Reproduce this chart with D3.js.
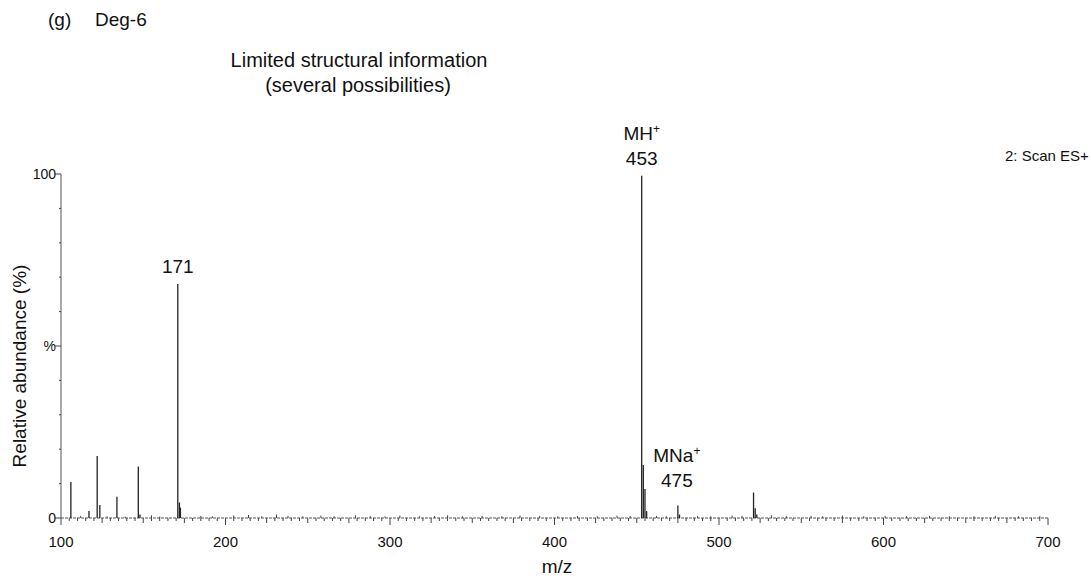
<html lang="en">
  <head>
    <meta charset="UTF-8" />
    <title>Deg-6 mass spectrum</title>
    <script src="https://d3js.org/d3.v7.min.js"></script>
  </head>
  <style>
    body {
      margin: 0;
      background: #fff;
    }
    text {
      font-family: "Liberation Sans", Arial, sans-serif;
      fill: #111;
    }
  </style>
  <body>
    <svg id="chart" width="1091" height="576"></svg>
    <script>
      // peaks (m/z, relative abundance %)
      var peakMz = [106, 117, 122, 123.6, 134, 147, 148, 171, 172, 172.6,
        453, 454, 455, 456, 475, 476, 521, 522, 523];
      var peakAbund = [10.5, 2, 18, 3.8, 6.2, 15, 1, 68, 4.5, 3,
        99.5, 15.4, 8.4, 2, 3.6, 1, 7.4, 2.8, 1];

      // small baseline noise
      var noiseMz = [112, 128, 139, 155, 160, 185, 192, 205, 214, 222, 231, 238, 247,
        258, 266, 279, 288, 297, 306, 318, 327, 335, 344, 356, 368, 379, 391, 402,
        414, 426, 438, 446, 462, 468, 487, 495, 508, 514, 532, 541, 556, 563, 575,
        588, 601, 614, 628, 640, 655, 668, 682, 695];
      var noiseAbund = [0.6, 0.5, 0.4, 0.8, 0.4, 0.6, 0.5, 0.7, 0.9, 0.5, 1.0, 0.6, 0.5,
        0.7, 0.5, 0.8, 0.6, 0.5, 0.7, 0.5, 0.6, 0.8, 0.5, 0.6, 0.5, 0.7, 0.6, 0.5,
        0.6, 0.5, 0.7, 0.6, 0.6, 0.5, 0.6, 0.5, 0.7, 0.6, 0.8, 0.5, 0.6, 0.5, 0.7,
        0.5, 0.6, 0.5, 0.6, 0.5, 0.5, 0.6, 0.5, 0.5];

      var xTickValues = [100, 200, 300, 400, 500, 600, 700];
      var yTickLabels = ["0", "%", "100"];

      var annotations = [
        { mz: 171, abund: 68, lines: ["171"] },
        { mz: 453, abund: 99.5, lines: ["MH+", "453"] },
        { mz: 475, abund: 3.6, lines: ["MNa+", "475"] }
      ];

      var svg = d3.select("#chart");

      var x = d3.scaleLinear().domain([100, 700]).range([61, 1048]);
      var y = d3.scaleLinear().domain([0, 100]).range([518, 174]);

      // titles
      svg.append("text").attr("x", 48).attr("y", 26)
        .style("font-size", "19px").text("(g)");
      svg.append("text").attr("x", 95).attr("y", 26)
        .style("font-size", "19px").text("Deg-6");
      svg.append("text").attr("x", 359).attr("y", 67)
        .attr("text-anchor", "middle").style("font-size", "20px")
        .text("Limited structural information");
      svg.append("text").attr("x", 358).attr("y", 92)
        .attr("text-anchor", "middle").style("font-size", "20px")
        .text("(several possibilities)");
      svg.append("text").attr("x", 1005).attr("y", 161)
        .style("font-size", "15px").text("2: Scan ES+");

      // y axis
      var yAxis = svg.append("g");
      yAxis.append("line")
        .attr("x1", x(100)).attr("x2", x(100))
        .attr("y1", y(100)).attr("y2", y(0))
        .attr("stroke", "#555").attr("stroke-width", 1);
      yAxis.selectAll("line.ytick")
        .data(d3.range(0, 101, 10))
        .enter()
        .append("line")
        .attr("class", "ytick")
        .attr("x1", function (d) { return d % 50 == 0 ? x(100) - 6 : x(100) - 2; })
        .attr("x2", x(100))
        .attr("y1", function (d) { return y(d); })
        .attr("y2", function (d) { return y(d); })
        .attr("stroke", "#444").attr("stroke-width", 1);
      yAxis.selectAll("text")
        .data([0, 50, 100])
        .enter()
        .append("text")
        .attr("x", x(100) - 5)
        .attr("y", function (d) { return y(d) + 5; })
        .attr("text-anchor", "end")
        .style("font-size", "14px")
        .text(function (d, i) { return yTickLabels[i]; });

      svg.append("text")
        .attr("transform", "translate(26,366) rotate(-90)")
        .attr("text-anchor", "middle")
        .style("font-size", "19px")
        .text("Relative abundance (%)");

      // x axis
      var xAxis = svg.append("g");
      xAxis.append("line")
        .attr("x1", x(100)).attr("x2", x(700))
        .attr("y1", y(0)).attr("y2", y(0))
        .attr("stroke", "#555").attr("stroke-width", 1)
        .attr("stroke-dasharray", "3,1");
      xAxis.selectAll("line.xtick")
        .data(d3.range(100, 701, 5))
        .enter()
        .append("line")
        .attr("class", "xtick")
        .attr("x1", function (d) { return x(d); })
        .attr("x2", function (d) { return x(d); })
        .attr("y1", y(0))
        .attr("y2", function (d) {
          if (d % 100 == 0) return y(0) + 7;
          if (d % 25 == 0) return y(0) + 5;
          return y(0) + 3;
        })
        .attr("stroke", "#444").attr("stroke-width", 1);
      xAxis.selectAll("text")
        .data(xTickValues)
        .enter()
        .append("text")
        .attr("x", function (d) { return x(d); })
        .attr("y", 547)
        .attr("text-anchor", "middle")
        .style("font-size", "15px")
        .text(function (d) { return d; });

      svg.append("text").attr("x", 557).attr("y", 573)
        .attr("text-anchor", "middle").style("font-size", "19px")
        .text("m/z");

      // noise
      svg.append("g").selectAll("line")
        .data(noiseMz)
        .enter()
        .append("line")
        .attr("x1", function (d) { return x(d); })
        .attr("x2", function (d) { return x(d); })
        .attr("y1", y(0))
        .attr("y2", function (d, i) { return y(noiseAbund[i]); })
        .attr("stroke", "#444").attr("stroke-width", 1);

      // peaks
      svg.append("g").selectAll("line")
        .data(peakMz)
        .enter()
        .append("line")
        .attr("x1", function (d) { return x(d); })
        .attr("x2", function (d) { return x(d); })
        .attr("y1", y(0))
        .attr("y2", function (d, i) { return y(peakAbund[i]); })
        .attr("stroke", "#222").attr("stroke-width", 1.3);

      // peak labels
      annotations.forEach(function (a) {
        var n = a.lines.length;
        var base = a.mz == 475 ? y(0) - 31 : y(a.abund) - 11;
        a.lines.forEach(function (t, j) {
          var txt = svg.append("text")
            .attr("x", x(a.mz) + (a.mz == 475 ? -1 : 0))
            .attr("y", base - (n - 1 - j) * 25)
            .attr("text-anchor", "middle")
            .style("font-size", "19px");
          if (t.slice(-1) == "+") {
            txt.append("tspan").text(t.slice(0, -1));
            txt.append("tspan").attr("dy", -7).style("font-size", "12px").text("+");
          } else {
            txt.text(t);
          }
        });
      });
    </script>
  </body>
</html>
